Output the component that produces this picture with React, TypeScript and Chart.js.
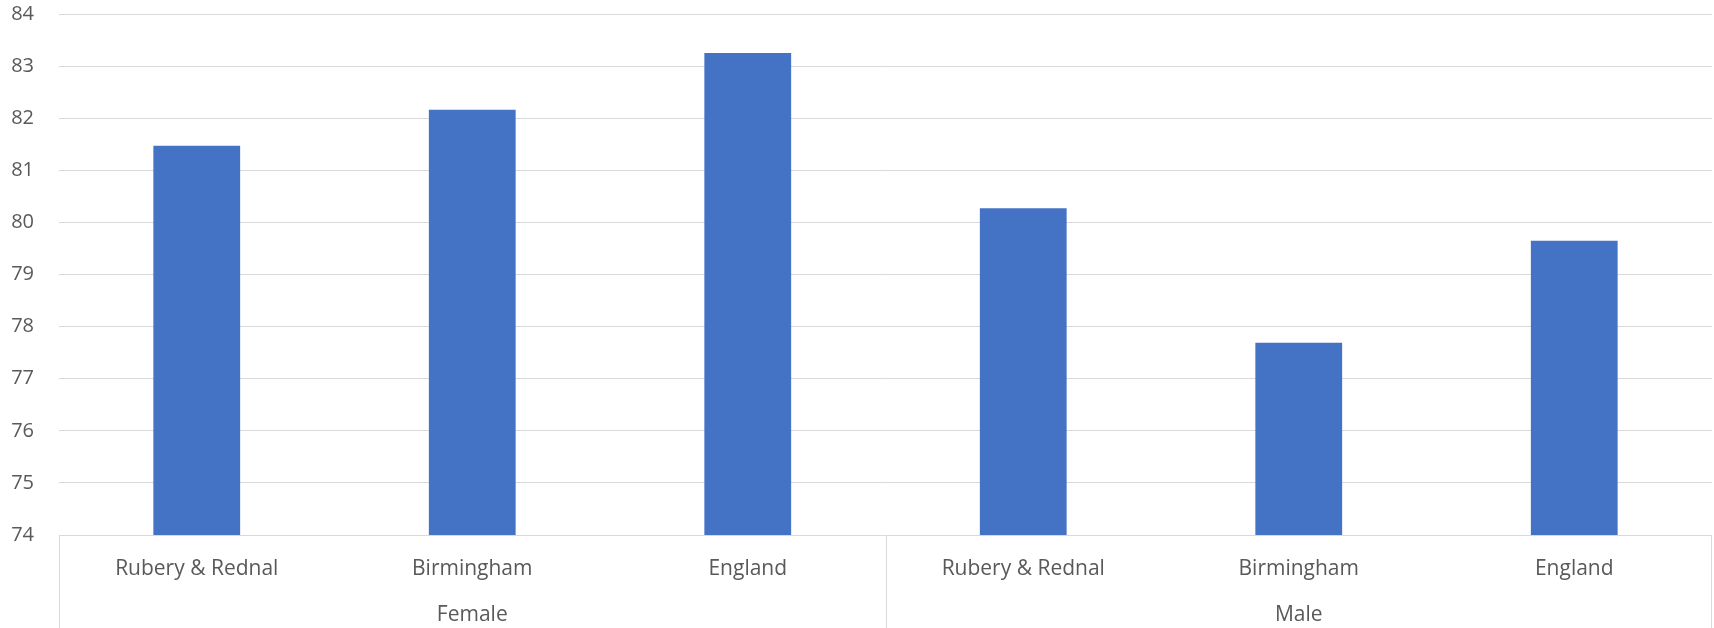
import React, { useEffect, useRef } from "react";
import { Chart, registerables } from "chart.js";

Chart.register(...registerables);

const categories = ["Rubery & Rednal", "Birmingham", "England", "Rubery & Rednal", "Birmingham", "England"];
const groups = ["Female", "Male"];
const groupSizes = [3, 3];
const lifeExpectancy = [81.47, 82.16, 83.25, 80.27, 77.69, 79.65];
const yMin = 74;
const yMax = 84;

const FONT = "'Open Sans', 'Liberation Sans', sans-serif";
const TEXT = "#595959";
const GRID = "#d9d9d9";

const groupPlugin = {
  id: "groupBox",
  afterDraw(chart: any) {
    const { ctx, chartArea } = chart;
    const bottom = chart.height;
    const step = (chartArea.right - chartArea.left) / categories.length;
    ctx.save();
    ctx.strokeStyle = GRID;
    ctx.lineWidth = 1;
    ctx.beginPath();
    ctx.moveTo(chartArea.left, Math.round(chartArea.bottom) + 0.5);
    ctx.lineTo(chartArea.right, Math.round(chartArea.bottom) + 0.5);
    ctx.stroke();
    let idx = 0;
    const bounds: number[] = [chartArea.left];
    groupSizes.forEach((n) => {
      idx += n;
      bounds.push(chartArea.left + step * idx);
    });
    bounds.forEach((bx, i) => {
      const px = Math.round(bx) + (i === bounds.length - 1 ? -0.5 : 0.5);
      ctx.beginPath();
      ctx.moveTo(px, chartArea.bottom);
      ctx.lineTo(px, bottom);
      ctx.stroke();
    });
    ctx.fillStyle = TEXT;
    ctx.font = `21px ${FONT}`;
    ctx.textAlign = "center";
    ctx.textBaseline = "middle";
    groups.forEach((g, i) => {
      const cx = (bounds[i] + bounds[i + 1]) / 2;
      ctx.fillText(g, cx, 615);
    });
    ctx.restore();
  },
};

export default function App() {
  const ref = useRef<HTMLCanvasElement | null>(null);
  useEffect(() => {
    if (!ref.current) return;
    const chart = new Chart(ref.current, {
      type: "bar",
      data: {
        labels: categories,
        datasets: [
          {
            data: lifeExpectancy,
            backgroundColor: "#4472C4",
            borderWidth: 0,
            barPercentage: 0.315,
            categoryPercentage: 1,
          },
        ],
      },
      options: {
        animation: false,
        responsive: true,
        maintainAspectRatio: false,
        layout: { padding: { top: 14, right: 2, left: 0, bottom: 0 } },
        plugins: { legend: { display: false }, tooltip: { enabled: false } },
        scales: {
          x: {
            grid: { display: false, drawTicks: false },
            border: { display: false },
            ticks: {
              color: TEXT,
              font: { family: FONT, size: 21 },
              padding: 21,
              maxRotation: 0,
              autoSkip: false,
            },
            afterFit: (s: any) => {
              s.height = 93;
              s.paddingLeft = 0;
              s.paddingRight = 0;
            },
          },
          y: {
            min: yMin,
            max: yMax,
            grid: { color: GRID, lineWidth: 1, drawTicks: false },
            border: { display: false },
            ticks: {
              stepSize: 1,
              color: TEXT,
              font: { family: FONT, size: 20 },
              padding: 25,
            },
            afterFit: (s: any) => {
              s.width = 59;
              s.paddingTop = 0;
              s.paddingBottom = 0;
            },
          },
        },
      },
      plugins: [groupPlugin],
    });
    return () => chart.destroy();
  }, []);
  return (
    <div style={{ position: "fixed", left: 0, top: 0, width: 1714, height: 628, background: "#fff" }}>
      <canvas ref={ref} />
    </div>
  );
}
